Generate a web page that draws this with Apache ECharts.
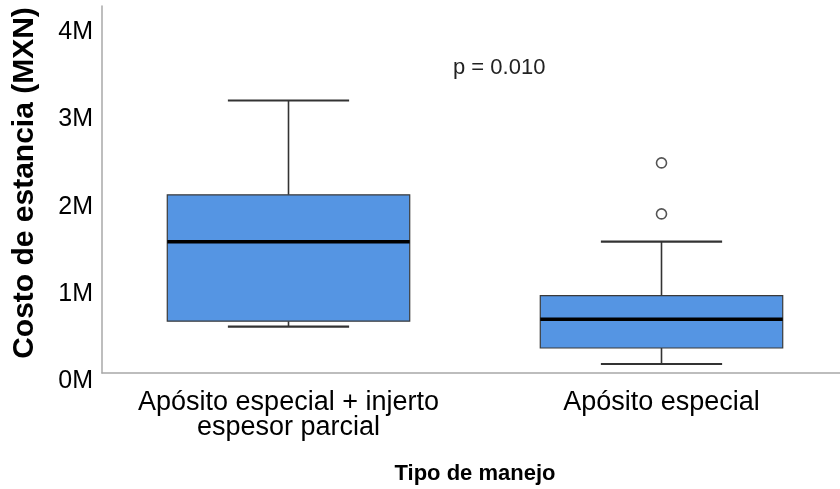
<!DOCTYPE html>
<html>
<head>
<meta charset="utf-8">
<script src="https://cdn.jsdelivr.net/npm/echarts@6/dist/echarts.min.js"></script>
<style>html,body{margin:0;padding:0;background:#fff;}#c{width:840px;height:489px;}</style>
</head>
<body>
<div id="c"></div>
<script>
const categories = ['Apósito especial + injerto\nespesor parcial', 'Apósito especial'];
const lowWhisker = [0.532e6, 0.103e6];
const q1 = [0.594e6, 0.287e6];
const median = [1.507e6, 0.617e6];
const q3 = [2.044e6, 0.887e6];
const highWhisker = [3.126e6, 1.507e6];
const outliers = [[1, 2.41e6], [1, 1.825e6]];
const yTicks = [0, 1e6, 2e6, 3e6, 4e6];
const pValueText = 'p = 0.010';
const yTitle = 'Costo de estancia (MXN)';
const xTitle = 'Tipo de manejo';

const FONT = '"Liberation Sans", Arial, sans-serif';
const boxData = categories.map((c, i) => [i, lowWhisker[i], q1[i], median[i], q3[i], highWhisker[i]]);

const chart = echarts.init(document.getElementById('c'), null, {renderer: 'canvas'});
chart.setOption({
  animation: false,
  backgroundColor: '#fff',
  grid: {left: 102, top: 6, width: 746, height: 367, containLabel: false, outerBoundsMode: 'none'},
  xAxis: {
    type: 'category',
    data: categories,
    axisLine: {lineStyle: {color: '#a8a8a8', width: 1.5}},
    axisTick: {show: false},
    axisLabel: {color: '#000', fontFamily: FONT, fontSize: 27, lineHeight: 25, margin: 17, interval: 0},
    name: xTitle,
    nameLocation: 'middle',
    nameGap: 90,
    nameTextStyle: {color: '#000', fontFamily: FONT, fontSize: 22, fontWeight: 'bold'}
  },
  yAxis: {
    type: 'value',
    min: 0,
    max: 4.21e6,
    interval: 1e6,
    splitLine: {show: false},
    axisTick: {show: false},
    axisLine: {show: true, lineStyle: {color: '#a8a8a8', width: 1.5}},
    axisLabel: {
      color: '#000', fontFamily: FONT, fontSize: 25, margin: 9,
      verticalAlign: 'top', lineHeight: 16,
      formatter: v => yTicks.indexOf(v) >= 0 ? (v / 1e6) + 'M' : ''
    }
  },
  graphic: [{
    type: 'text', left: 453, top: 57,
    style: {text: pValueText, fill: '#222', font: '22px ' + FONT}
  }, {
    type: 'text', x: 25, y: 183, rotation: Math.PI / 2,
    style: {text: yTitle, fill: '#000', font: 'bold 30px ' + FONT, align: 'center', verticalAlign: 'middle'}
  }],
  series: [{
    type: 'custom',
    data: boxData,
    encode: {x: 0, y: [1, 2, 3, 4, 5]},
    renderItem: function (params, api) {
      const x = api.value(0);
      const pLow = api.coord([x, api.value(1)]);
      const pQ1 = api.coord([x, api.value(2)]);
      const pMed = api.coord([x, api.value(3)]);
      const pQ3 = api.coord([x, api.value(4)]);
      const pHigh = api.coord([x, api.value(5)]);
      const band = api.size([1, 0])[0];
      const bw = band * 0.65;
      const cw = bw * 0.5;
      const cx = pMed[0];
      const ws = {stroke: '#333', lineWidth: 1.6};
      return {
        type: 'group',
        children: [
          {type: 'line', shape: {x1: cx, y1: pHigh[1], x2: cx, y2: pQ3[1]}, style: ws},
          {type: 'line', shape: {x1: cx - cw / 2, y1: pHigh[1], x2: cx + cw / 2, y2: pHigh[1]}, style: {stroke: '#333', lineWidth: 2.2}},
          {type: 'line', shape: {x1: cx, y1: pQ1[1], x2: cx, y2: pLow[1]}, style: ws},
          {type: 'line', shape: {x1: cx - cw / 2, y1: pLow[1], x2: cx + cw / 2, y2: pLow[1]}, style: {stroke: '#333', lineWidth: 2.2}},
          {type: 'rect', shape: {x: cx - bw / 2, y: pQ3[1], width: bw, height: pQ1[1] - pQ3[1]},
            style: {fill: '#5595e3', stroke: '#3a3a3a', lineWidth: 1.2}},
          {type: 'line', shape: {x1: cx - bw / 2, y1: pMed[1], x2: cx + bw / 2, y2: pMed[1]}, style: {stroke: '#000', lineWidth: 3.5}}
        ]
      };
    }
  }, {
    type: 'scatter',
    data: outliers,
    symbol: 'circle',
    symbolSize: 10,
    itemStyle: {color: '#fff', borderColor: '#555', borderWidth: 1.6, opacity: 1}
  }]
});
</script>
</body>
</html>
